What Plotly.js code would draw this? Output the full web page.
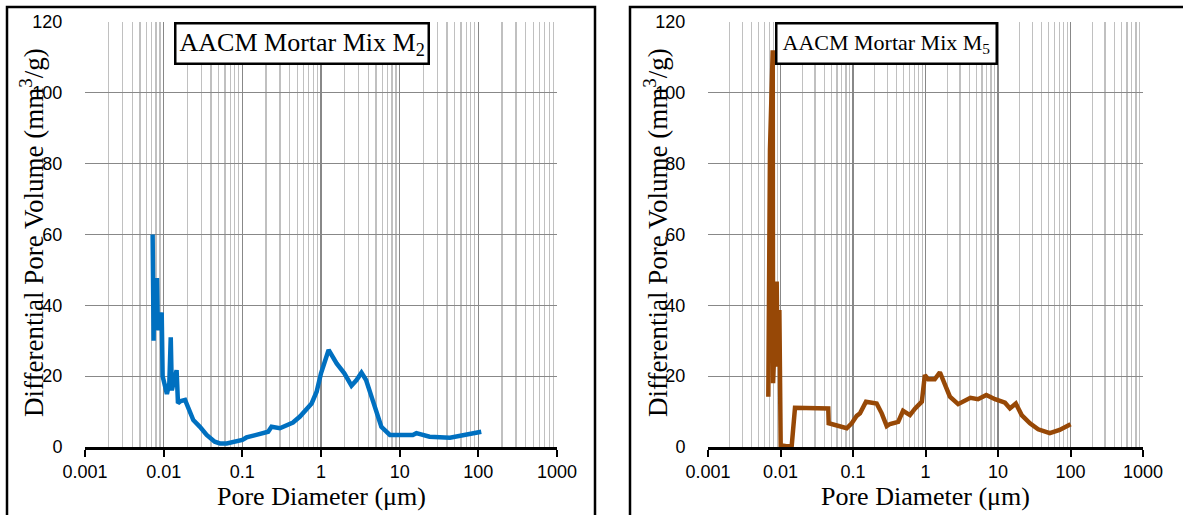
<!DOCTYPE html>
<html>
<head>
<meta charset="utf-8">
<script src="https://cdn.plot.ly/plotly-3.0.1.min.js"></script>
<style>html,body{margin:0;padding:0;background:#fff;}#chart{width:1183px;height:515px;}</style>
</head>
<body>
<div id="chart"></div>
<script>
// ---- data ----
const tickVals = [0.001, 0.01, 0.1, 1, 10, 100, 1000];
const tickText = ["0.001", "0.01", "0.1", "1", "10", "100", "1000"];
const yTickVals = [0, 20, 40, 60, 80, 100, 120];
const yTickText = ["0", "20", "40", "60", "80", "100", "120"];

const m2Diameter = [0.00724, 0.00730, 0.00745, 0.00753, 0.0078, 0.00822, 0.0084, 0.00864, 0.0090, 0.00944,
  0.0097, 0.0103, 0.0110, 0.0118, 0.0123, 0.0127, 0.0135, 0.0146, 0.0152, 0.0165,
  0.0187, 0.0216, 0.0238, 0.0289, 0.0352, 0.0446, 0.0519, 0.0632, 0.0843, 0.100,
  0.113, 0.125, 0.167, 0.213, 0.235, 0.30, 0.44, 0.54, 0.76, 0.88,
  1.0, 1.25, 1.58, 1.98, 2.44, 2.83, 3.27, 3.74, 4.6, 5.85,
  7.5, 14.7, 16.3, 24, 43.6, 70.6, 109];
const m2Volume = [60, 42, 30, 45, 33, 47.7, 35, 33, 36, 38,
  20, 17, 15, 18, 31, 16, 19, 21.7, 12.4, 13,
  13.3, 9.6, 7.6, 5.7, 3.4, 1.5, 1.0, 1.0, 1.8, 2.0,
  2.7, 3.0, 3.9, 4.3, 5.7, 5.3, 6.9, 8.6, 12.3, 15.6,
  20.8, 27.4, 23.6, 20.8, 17.3, 18.9, 21, 18.9, 12.8, 5.7,
  3.4, 3.4, 3.9, 2.9, 2.6, 3.4, 4.3];

const m5Diameter = [0.00679, 0.00716, 0.00781, 0.0079, 0.00886, 0.00911, 0.00964, 0.0098, 0.01006, 0.0120,
  0.01427, 0.01585, 0.030, 0.0456, 0.0462, 0.0819, 0.096, 0.1125, 0.125, 0.151,
  0.212, 0.249, 0.292, 0.324, 0.42, 0.49, 0.61, 0.72, 0.89, 0.98,
  1.09, 1.34, 1.58, 1.85, 2.17, 2.82, 4.16, 5.3, 6.9, 9.1,
  12.5, 14.6, 17.6, 21.2, 27.6, 35.8, 51.8, 70.8, 100.3];
const m5Volume = [14.2, 83.9, 112, 18, 46.7, 22.7, 38.7, 20, 0.5, 0.2,
  0.3, 11.1, 11.1, 10.9, 6.7, 5.3, 6.7, 8.8, 9.5, 12.8,
  12.3, 9.5, 5.9, 6.5, 7.1, 10.2, 9.0, 10.9, 12.8, 20.3,
  19.1, 19.1, 21.1, 17.5, 14.2, 12.1, 13.9, 13.5, 14.7, 13.5,
  12.5, 10.9, 12.3, 9.0, 6.7, 5.0, 3.9, 4.8, 6.4];

const titleM2 = "AACM Mortar Mix M<sub>2</sub>";
const titleM5 = "AACM Mortar Mix M<sub>5</sub>";
const xTitle = "Pore Diameter (\u03bcm)";
const yTitle = "Differential Pore Volume (mm<sup>3</sup>/g)";

// ---- figure ----
const W = 1183, H = 515;
const px = v => v / W;
const py = v => (H - v) / H;

const tickFont = {family: "Liberation Sans, Arial, sans-serif", size: 18, color: "#000"};
const serif = "Liberation Serif, Times New Roman, serif";

function xAxis(domain) {
  return {
    type: "log", domain: domain, range: [-3, 3],
    tickmode: "array", tickvals: tickVals, ticktext: tickText,
    showgrid: true, gridcolor: "#888888", gridwidth: 1.3,
    minor: {dtick: "D1", showgrid: true, gridcolor: "#c0c0c0", gridwidth: 1.3, ticks: "", ticklen: 0},
    showline: true, linecolor: "#000", linewidth: 2.5,
    ticks: "outside", ticklen: 7, tickwidth: 2, tickcolor: "#000",
    tickfont: tickFont, zeroline: false, fixedrange: true
  };
}
function yAxis(anchor) {
  return {
    domain: [py(447), py(22)], range: [0, 120], anchor: anchor,
    tickmode: "array", tickvals: yTickVals, ticktext: yTickText,
    showgrid: true, gridcolor: "#888888", gridwidth: 1.3,
    showline: false, zeroline: false,
    ticks: "outside", ticklen: 18, tickcolor: "rgba(0,0,0,0)",
    tickfont: tickFont, fixedrange: true
  };
}

const traces = [
  {x: m2Diameter, y: m2Volume, xaxis: "x", yaxis: "y", type: "scatter", mode: "lines",
   line: {color: "#0070C0", width: 4.5}, hoverinfo: "skip"},
  {x: m5Diameter, y: m5Volume, xaxis: "x2", yaxis: "y2", type: "scatter", mode: "lines",
   line: {color: "#974806", width: 4.5}, hoverinfo: "skip"}
];

const layout = {
  width: W, height: H,
  margin: {l: 0, r: 0, t: 0, b: 0},
  paper_bgcolor: "#fff", plot_bgcolor: "#fff",
  showlegend: false,
  xaxis: Object.assign(xAxis([px(85), px(557)]), {anchor: "y"}),
  yaxis: yAxis("x"),
  xaxis2: Object.assign(xAxis([px(708), px(1143)]), {anchor: "y2"}),
  yaxis2: yAxis("x2"),
  shapes: [
    {type: "rect", xref: "paper", yref: "paper", x0: px(7), x1: px(595), y0: -0.05, y1: py(7),
     line: {color: "#000", width: 2.5}, layer: "above"},
    {type: "rect", xref: "paper", yref: "paper", x0: px(630), x1: 1.05, y0: -0.05, y1: py(7),
     line: {color: "#000", width: 2.5}, layer: "above"}
  ],
  annotations: [
    {text: titleM2, xref: "paper", yref: "paper", x: px(302), y: py(43.5), xanchor: "center", yanchor: "middle",
     showarrow: false, font: {family: serif, size: 26, color: "#000"},
     bgcolor: "#fff", bordercolor: "#000", borderwidth: 2.5, borderpad: 3},
    {text: titleM5, xref: "paper", yref: "paper", x: px(886), y: py(43), xanchor: "center", yanchor: "middle",
     showarrow: false, font: {family: serif, size: 22, color: "#000"},
     bgcolor: "#fff", bordercolor: "#000", borderwidth: 2.5, borderpad: 5},
    {text: xTitle, xref: "paper", yref: "paper", x: px(321), y: py(496), xanchor: "center", yanchor: "middle",
     showarrow: false, font: {family: serif, size: 26, color: "#000"}},
    {text: xTitle, xref: "paper", yref: "paper", x: px(925), y: py(496), xanchor: "center", yanchor: "middle",
     showarrow: false, font: {family: serif, size: 26, color: "#000"}},
    {text: yTitle, xref: "paper", yref: "paper", x: px(32), y: py(233), xanchor: "center", yanchor: "middle",
     textangle: -90, showarrow: false, font: {family: serif, size: 27, color: "#000"}},
    {text: yTitle, xref: "paper", yref: "paper", x: px(656), y: py(233), xanchor: "center", yanchor: "middle",
     textangle: -90, showarrow: false, font: {family: serif, size: 27, color: "#000"}}
  ]
};

Plotly.newPlot("chart", traces, layout, {staticPlot: true, displayModeBar: false});
</script>
</body>
</html>
